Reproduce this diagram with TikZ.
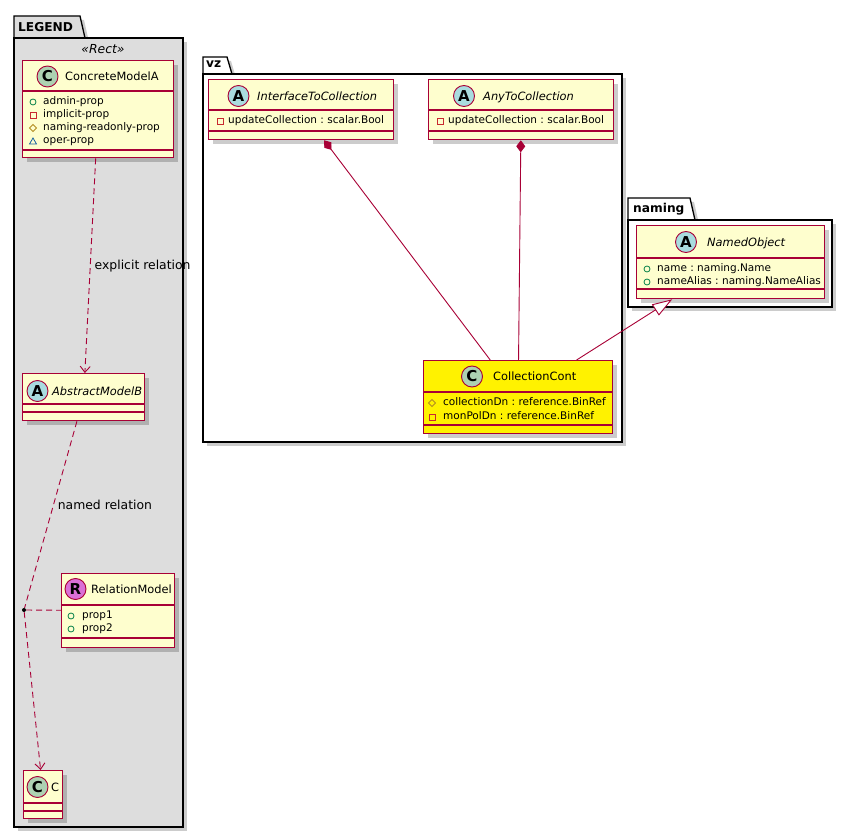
\documentclass[tikz,border=0pt]{standalone}
\usepackage{fontspec}
\setmainfont{DejaVu Sans}
\usepackage{tikz}
\usetikzlibrary{arrows.meta,shadows}
\frenchspacing

\definecolor{umlborder}{HTML}{A80036}
\definecolor{classfill}{HTML}{FEFECE}
\definecolor{spotclass}{HTML}{ADD1B2}
\definecolor{spotabstract}{HTML}{A9DCDF}
\definecolor{spotrelation}{HTML}{DA70D6}
\definecolor{legendgray}{HTML}{DDDDDD}
\definecolor{publicgreen}{HTML}{038048}
\definecolor{privatered}{HTML}{C82930}
\definecolor{protectedgold}{HTML}{B38D22}
\definecolor{packageblue}{HTML}{1963A0}

\tikzset{
	umlshadow/.style={drop shadow={shadow xshift=4pt, shadow yshift=-4pt, fill=black, opacity=0.2}},
	umlclass/.style={draw=umlborder, line width=1.3pt, fill=classfill, inner sep=0pt, anchor=north west, umlshadow},
	umlpackage/.style={draw=black, line width=1.3pt, umlshadow},
	divider/.style={draw=umlborder, line width=1.3pt},
	spot/.style={circle, draw=umlborder, line width=0.9pt, minimum size=21pt, inner sep=0pt, font=\fontsize{15}{15}\selectfont\bfseries},
	classname/.style={anchor=west, inner sep=0pt, text height=8.5pt, text depth=0pt, font=\fontsize{11.4}{13}\selectfont},
	abstractname/.style={classname, font=\fontsize{11.4}{13}\selectfont\itshape},
	attr/.style={anchor=west, inner sep=0pt, text height=8pt, text depth=2.5pt, font=\fontsize{10.5}{12}\selectfont},
	pkglabel/.style={anchor=base west, inner sep=0pt, font=\fontsize{12.2}{13}\selectfont\bfseries},
	stereolabel/.style={anchor=base, inner sep=0pt, font=\fontsize{12.4}{14}\selectfont\itshape},
	linklabel/.style={anchor=west, inner sep=4pt, font=\fontsize{12.4}{14}\selectfont},
	link/.style={draw=umlborder, line width=0.9pt},
	dashedlink/.style={link, dash pattern=on 6pt off 4pt},
	publicicon/.style={draw=publicgreen, line width=0.8pt},
	privateicon/.style={draw=privatered, line width=0.8pt},
	protectedicon/.style={draw=protectedgold, line width=0.8pt},
	packageicon/.style={draw=packageblue, line width=0.8pt}
}

\begin{document}
\begin{tikzpicture}[x=1pt, y=-1pt]
	\fill[white] (0,0) rectangle (855,837);
	\useasboundingbox (0,0) rectangle (855,837);
	%\draw[help lines, step=50] (0,0) grid (855,837);

	\draw[umlpackage, fill=legendgray] (14,38) -- (14,16) -- (80,16) -- (85,38) -- cycle;
	\draw[umlpackage, fill=legendgray] (14,38) rectangle (183,827);
	\node[pkglabel] (legendLabel) at (18,32) {LEGEND};
	\node[stereolabel] (legendStereo) at (103,54) {«Rect»};

	\draw[umlpackage, fill=white] (203,74) -- (203,57) -- (227,57) -- (232,74) -- cycle;
	\draw[umlpackage, fill=white] (203,74) rectangle (622,442);
	\node[pkglabel] (vzLabel) at (206,68) {vz};

	\draw[umlpackage, fill=white] (628,220) -- (628,198) -- (690,198) -- (695,220) -- cycle;
	\draw[umlpackage, fill=white] (628,220) rectangle (832,307);
	\node[pkglabel] (namingLabel) at (633,213) {naming};

	\node[umlclass, minimum width=151, minimum height=97] (concreteA) at (22,60) {};
	\draw[divider] (22,91) -- (173,91);
	\draw[divider] (22,150) -- (173,150);
	\node[spot, fill=spotclass] (concreteASpot) at (47.5,76.5) {C};
	\node[classname] (concreteAName) at (65,76.5) {ConcreteModelA};
	\draw[publicicon] (33,102) circle (3);
	\node[attr] (concreteAAdmin) at (43,102) {admin-prop};
	\draw[privateicon] (30,112) rectangle (36,118);
	\node[attr] (concreteAImplicit) at (43,115) {implicit-prop};
	\draw[protectedicon] (33,124.5) -- (36.5,128) -- (33,131.5) -- (29.5,128) -- cycle;
	\node[attr] (concreteANaming) at (43,128) {naming-readonly-prop};
	\draw[packageicon] (29.5,144) -- (36.5,144) -- (33,138) -- cycle;
	\node[attr] (concreteAOper) at (43,141) {oper-prop};

	\node[umlclass, minimum width=122, minimum height=47] (abstractB) at (22,373) {};
	\draw[divider] (22,404) -- (144,404);
	\draw[divider] (22,412) -- (144,412);
	\node[spot, fill=spotabstract] (abstractBSpot) at (37.5,391) {A};
	\node[abstractname] (abstractBName) at (52,391) {AbstractModelB};

	\node[umlclass, minimum width=113, minimum height=74] (relationR) at (61,573) {};
	\draw[divider] (61,605) -- (174,605);
	\draw[divider] (61,638) -- (174,638);
	\node[spot, fill=spotrelation] (relationRSpot) at (75.5,589) {R};
	\node[classname] (relationRName) at (91,589) {RelationModel};
	\draw[publicicon] (71,616) circle (3);
	\node[attr] (relationRPropA) at (82,616) {prop1};
	\draw[publicicon] (71,629) circle (3);
	\node[attr] (relationRPropB) at (82,629) {prop2};

	\node[umlclass, minimum width=39, minimum height=48] (classC) at (23,770) {};
	\draw[divider] (23,803) -- (62,803);
	\draw[divider] (23,811) -- (62,811);
	\node[spot, fill=spotclass] (classCSpot) at (37.5,787) {C};
	\node[classname] (classCName) at (51,787) {C};

	\node[umlclass, minimum width=185, minimum height=60] (ifaceColl) at (208,79) {};
	\draw[divider] (208,110) -- (393,110);
	\draw[divider] (208,131) -- (393,131);
	\node[spot, fill=spotabstract] (ifaceCollSpot) at (238.5,96) {A};
	\node[abstractname] (ifaceCollName) at (257,96) {InterfaceToCollection};
	\draw[privateicon] (217,118) rectangle (223,124);
	\node[attr] (ifaceCollUpdate) at (228,121) {updateCollection : scalar.Bool};

	\node[umlclass, minimum width=185, minimum height=60] (anyColl) at (428,79) {};
	\draw[divider] (428,110) -- (613,110);
	\draw[divider] (428,131) -- (613,131);
	\node[spot, fill=spotabstract] (anyCollSpot) at (464,96) {A};
	\node[abstractname] (anyCollName) at (483,96) {AnyToCollection};
	\draw[privateicon] (437,118) rectangle (443,124);
	\node[attr] (anyCollUpdate) at (448,121) {updateCollection : scalar.Bool};

	\node[umlclass, fill=yellow, minimum width=189, minimum height=73] (collCont) at (423,360) {};
	\draw[divider] (423,392) -- (612,392);
	\draw[divider] (423,425) -- (612,425);
	\node[spot, fill=spotclass] (collContSpot) at (472,376.5) {C};
	\node[classname] (collContName) at (493,376.5) {CollectionCont};
	\draw[protectedicon] (432,399.5) -- (435.5,403) -- (432,406.5) -- (428.5,403) -- cycle;
	\node[attr] (collContDn) at (443,403) {collectionDn : reference.BinRef};
	\draw[privateicon] (429,414) rectangle (435,420);
	\node[attr] (collContPol) at (443,417) {monPolDn : reference.BinRef};

	\node[umlclass, minimum width=188, minimum height=73] (namedObj) at (636,225) {};
	\draw[divider] (636,258) -- (824,258);
	\draw[divider] (636,289) -- (824,289);
	\node[spot, fill=spotabstract] (namedObjSpot) at (686,242) {A};
	\node[abstractname] (namedObjTitle) at (707,242) {NamedObject};
	\draw[publicicon] (647,269) circle (3);
	\node[attr] (namedObjName) at (657,269) {name : naming.Name};
	\draw[publicicon] (647,282) circle (3);
	\node[attr] (namedObjAlias) at (657,282) {nameAlias : naming.NameAlias};

	\node[circle, fill=black, inner sep=0pt, minimum size=4] (relDot) at (24,610) {};

	\draw[dashedlink, -{Straight Barb[length=6pt, width=10pt]}] (concreteA) -- (abstractB) node[linklabel, pos=0.5] (explicitLabel) {explicit relation};
	\draw[dashedlink] (abstractB) -- (relDot) node[linklabel, pos=0.45] (namedLabel) {named relation};
	\draw[dashedlink, -{Straight Barb[length=6pt, width=10pt]}] (relDot) -- (classC);
	\draw[dashedlink] (relDot) -- (relationR);
	\draw[link, {Diamond[length=12pt, width=9pt, fill=umlborder]}-] (ifaceColl) -- (collCont);
	\draw[link, {Diamond[length=12pt, width=9pt, fill=umlborder]}-] (anyColl) -- (collCont);
	\draw[link, -{Triangle[length=20pt, width=13pt, fill=white]}] (collCont) -- (namedObj);
\end{tikzpicture}
\end{document}
